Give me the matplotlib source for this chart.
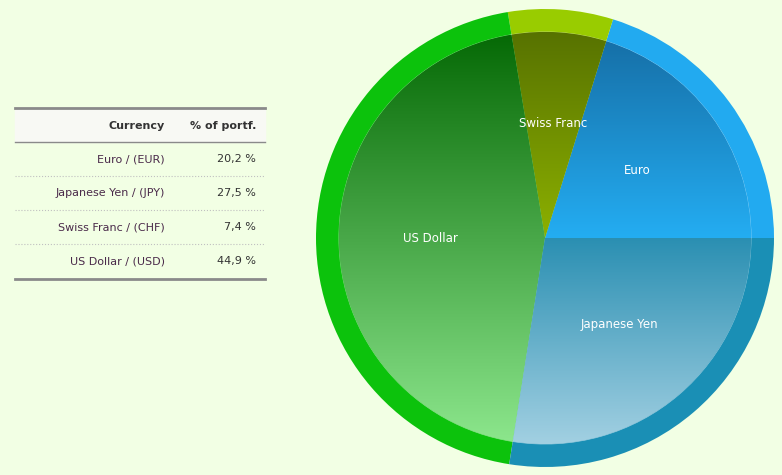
import numpy as np
import matplotlib
matplotlib.use("Agg")
import matplotlib.pyplot as plt
from matplotlib.colors import LinearSegmentedColormap

labels = ["Euro", "Swiss Franc", "US Dollar", "Japanese Yen"]
shares = [20.2, 7.4, 44.9, 27.5]
ring_colors = ["#22aaf0", "#99cc00", "#0cc20c", "#1a8fb5"]
grad_top = ["#1670a8", "#577200", "#066a06", "#2a8fb2"]
grad_bot = ["#24adf2", "#8cb000", "#8ce68c", "#a2d0e2"]

table_rows = ["Euro / (EUR)", "Japanese Yen / (JPY)", "Swiss Franc / (CHF)", "US Dollar / (USD)"]
table_vals = ["20,2 %", "27,5 %", "7,4 %", "44,9 %"]

bg = "#f2ffe4"
W, H = 782, 475
fig = plt.figure(figsize=(W / 100, H / 100), dpi=100, facecolor=bg)

# table drawn in pixel coords
tx = fig.add_axes([0, 0, 1, 1])
tx.set_xlim(0, W)
tx.set_ylim(H, 0)
tx.axis("off")
tx.add_patch(plt.Rectangle((15, 108), 250, 34, color="#f8f9f4", zorder=0))
tx.plot([15, 265], [108, 108], color="#8a8a8a", lw=2)
tx.plot([15, 265], [142, 142], color="#8a8a8a", lw=1)
tx.plot([15, 265], [279, 279], color="#8a8a8a", lw=2)
tx.text(165, 126, "Currency", ha="right", va="center", fontsize=8, fontweight="bold", color="#333")
tx.text(256, 126, "% of portf.", ha="right", va="center", fontsize=8, fontweight="bold", color="#333")
for i, (r, v) in enumerate(zip(table_rows, table_vals)):
    y = 159 + 34 * i
    tx.text(165, y, r, ha="right", va="center", fontsize=8, color="#4a2a4a")
    tx.text(256, y, v, ha="right", va="center", fontsize=8, color="#333")
    if i < 3:
        tx.plot([15, 265], [y + 17, y + 17], color="#c0c0c0", lw=0.8, ls=":")

# pie
ax = fig.add_axes([316 / W, 8 / H, 458 / W, 458 / H])
ax.set_facecolor("none")
ax.pie(shares, colors=ring_colors, startangle=0, counterclock=True, radius=1.0,
       wedgeprops=dict(linewidth=0))
inner, texts = ax.pie(shares, colors=ring_colors, startangle=0, counterclock=True,
                      radius=0.9, labels=labels, labeldistance=0.555,
                      wedgeprops=dict(linewidth=0.5, edgecolor="#ffffff80"),
                      textprops=dict(color="white", fontsize=8.5, ha="center", va="center"))
for w, c0, c1 in zip(inner, grad_top, grad_bot):
    ext = w.get_path().get_extents()
    cmap = LinearSegmentedColormap.from_list("g", [c1, c0])
    grad = np.linspace(0, 1, 256).reshape(-1, 1)
    im = ax.imshow(grad, cmap=cmap, origin="lower", aspect="auto",
                   extent=[ext.x0, ext.x1, ext.y0, ext.y1], zorder=w.get_zorder() + 0.1)
    im.set_clip_path(w)
for t in texts:
    t.set_zorder(10)
ax.set_xlim(-1, 1)
ax.set_ylim(-1, 1)
ax.set_aspect("equal")
ax.axis("off")

fig.savefig("out.png", dpi=100, facecolor=bg)
